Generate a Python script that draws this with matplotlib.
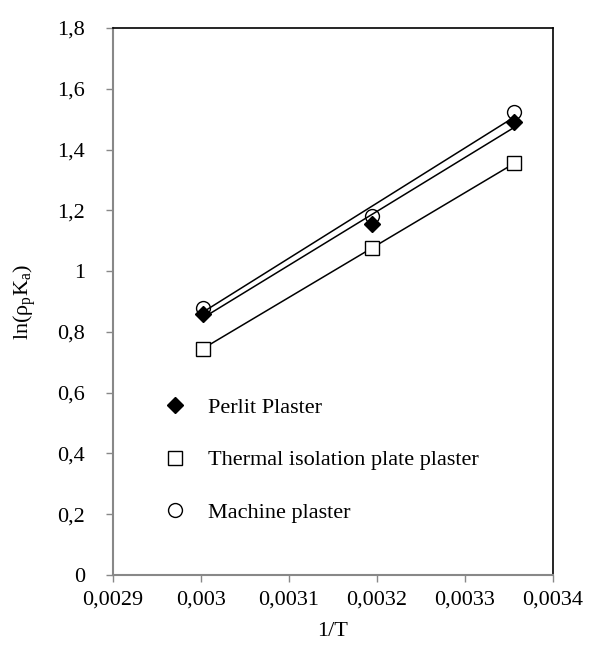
import numpy as np
import matplotlib
matplotlib.use('Agg')
import matplotlib.pyplot as plt
from matplotlib.ticker import FuncFormatter

plt.rcParams['font.family'] = 'Liberation Serif'
plt.rcParams['mathtext.fontset'] = 'custom'
plt.rcParams['mathtext.rm'] = 'Liberation Serif'
plt.rcParams['mathtext.it'] = 'Liberation Serif:italic'

# dados
inv_T = [0.003002, 0.003194, 0.003356]
perlit = [0.86, 1.155, 1.49]
termico = [0.745, 1.075, 1.355]
maquina = [0.88, 1.18, 1.525]

rotulos = ['Perlit Plaster', 'Thermal isolation plate plaster', 'Machine plaster']


def virgula(v, pos):
    s = ('%.4f' % v).rstrip('0').rstrip('.')
    return s.replace('.', ',')


fig = plt.figure(figsize=(5.92, 6.52), dpi=100)
ax = fig.add_axes([0.1909, 0.1181, 0.7432, 0.8389])

x = np.array(inv_T)
series = [
    (perlit, dict(marker='D', markersize=8.5, markerfacecolor='black', markeredgecolor='black')),
    (termico, dict(marker='s', markersize=10, markerfacecolor='white', markeredgecolor='black', markeredgewidth=1)),
    (maquina, dict(marker='o', markersize=10, markerfacecolor='none', markeredgecolor='black', markeredgewidth=1)),
]

for (y, estilo), rot in zip(series, rotulos):
    # linha de tendencia linear
    a, b = np.polyfit(x, y, 1)
    ax.plot(x, a * x + b, color='black', linewidth=1.1, zorder=2)
    ax.plot(x, y, linestyle='none', label=rot, zorder=3, **estilo)

ax.set_xlim(0.0029, 0.0034)
ax.set_ylim(0, 1.8)
ax.set_xticks([0.0029, 0.0030, 0.0031, 0.0032, 0.0033, 0.0034])
ax.set_yticks([0, 0.2, 0.4, 0.6, 0.8, 1.0, 1.2, 1.4, 1.6, 1.8])
ax.xaxis.set_major_formatter(FuncFormatter(virgula))
ax.yaxis.set_major_formatter(FuncFormatter(virgula))
ax.tick_params(axis='both', direction='out', length=5, width=1, color='#888888',
               labelsize=16)
ax.tick_params(axis='y', pad=15)
ax.tick_params(axis='x', pad=6)

for lado in ['left', 'bottom']:
    ax.spines[lado].set_color('#888888')
    ax.spines[lado].set_linewidth(1.5)
for lado in ['top', 'right']:
    ax.spines[lado].set_color('black')
    ax.spines[lado].set_linewidth(1.2)

ax.set_xlabel('1/T', fontsize=16, labelpad=9)
ax.set_ylabel('ln(ρ$_\\mathregular{p}$K$_\\mathregular{a}$)', fontsize=16, labelpad=14)

ax.legend(loc='lower left', bbox_to_anchor=(0.065, 0.058), frameon=False, fontsize=16,
          labelspacing=1.45, handletextpad=0.9, handlelength=1.2)

plt.savefig('out.png', dpi=100)
